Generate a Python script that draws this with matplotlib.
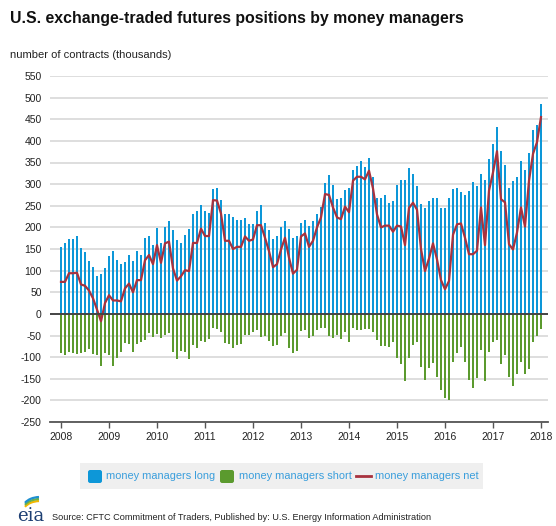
import numpy as np
import matplotlib
matplotlib.use("Agg")
import matplotlib.pyplot as plt
from matplotlib.patches import Rectangle, FancyBboxPatch, Arc

plt.rcParams['font.family'] = ['Liberation Sans', 'DejaVu Sans']
plt.rcParams['axes.unicode_minus'] = False

# monthly values, Jan 2008 .. Jan 2018 (thousand contracts)
long_pos = [155, 164, 174, 174, 181, 152, 144, 123, 109, 87, 92, 106,
            133, 145, 125, 115, 121, 135, 123, 145, 135, 176, 179, 159,
            199, 164, 200, 215, 194, 170, 164, 183, 196, 231, 238, 252,
            238, 233, 289, 292, 263, 231, 231, 223, 218, 218, 221, 208,
            208, 238, 252, 211, 194, 174, 181, 200, 215, 196, 176, 181,
            211, 218, 204, 215, 232, 248, 303, 321, 299, 265, 269, 287,
            292, 333, 341, 353, 339, 360, 316, 267, 267, 275, 257, 262,
            299, 310, 310, 338, 324, 296, 255, 245, 260, 269, 267, 245,
            245, 269, 289, 292, 282, 275, 285, 304, 296, 324, 310, 358,
            392, 433, 376, 345, 292, 307, 317, 353, 333, 372, 425, 437,
            486]
short_pos = [-90, -96, -87, -90, -92, -90, -87, -82, -92, -96, -121, -91,
             -95, -121, -102, -88, -67, -70, -87, -70, -64, -60, -45, -53,
             -46, -55, -48, -45, -87, -104, -86, -87, -104, -72, -80, -63,
             -64, -57, -33, -36, -43, -68, -70, -80, -72, -70, -49, -49,
             -43, -38, -53, -50, -63, -75, -72, -51, -45, -78, -91, -86,
             -40, -37, -55, -50, -37, -33, -33, -50, -55, -49, -57, -43,
             -64, -33, -37, -37, -34, -34, -43, -60, -74, -74, -77, -64,
             -103, -115, -156, -101, -72, -64, -122, -153, -125, -113, -146, -175,
             -194, -200, -111, -91, -76, -111, -153, -171, -149, -84, -155, -88,
             -66, -60, -117, -94, -146, -166, -139, -111, -139, -128, -66, -50,
             -36]
net_pos = [74, 74, 94, 94, 95, 68, 65, 54, 36, 10, -17, 25,
           43, 31, 31, 29, 59, 70, 50, 78, 78, 124, 136, 115,
           159, 118, 163, 167, 105, 77, 87, 101, 99, 164, 164, 197,
           180, 180, 263, 262, 232, 169, 169, 150, 155, 155, 179, 169,
           172, 205, 205, 176, 145, 108, 115, 149, 176, 130, 93, 102,
           179, 186, 155, 169, 200, 223, 277, 275, 246, 223, 219, 248,
           235, 308, 317, 317, 311, 331, 290, 230, 200, 204, 204, 190,
           204, 202, 159, 245, 257, 241, 150, 99, 128, 163, 126, 78,
           57, 76, 183, 207, 209, 176, 138, 138, 146, 246, 159, 285,
           327, 376, 265, 258, 161, 149, 188, 246, 202, 308, 370, 397,
           455]
years = list(range(2008, 2019))
yticks = list(range(-250, 551, 50))

x = 2008 + np.arange(len(long_pos)) / 12.0

W, H = 556, 526
fig = plt.figure(figsize=(W / 100, H / 100), dpi=100)
ax = fig.add_axes([50 / W, 1 - 422 / H, (548 - 50) / W, (422 - 76) / H])

blue = '#0d97d8'
green = '#5b9a2e'
red = '#a8323e'

ax.bar(x, long_pos, width=0.62 / 12, color=blue, linewidth=0, zorder=2)
ax.bar(x, short_pos, width=0.62 / 12, color=green, linewidth=0, zorder=2)
ax.plot(x, net_pos, color=red, linewidth=1.6, zorder=3)

ax.set_xlim(2008 - 11 / 48, 2018 + 7 / 48)
ax.set_ylim(-250, 550)
ax.set_yticks(yticks)
ax.set_xticks(years)
ax.set_xticklabels([str(y) for y in years])
ax.yaxis.grid(True, color='#d4d4d4', linewidth=1.1, zorder=0)
ax.axhline(0, color='#444444', linewidth=1.4, zorder=4)
ax.set_axisbelow(True)
for s in ['top', 'right', 'left']:
    ax.spines[s].set_visible(False)
ax.spines['bottom'].set_color('#555555')
ax.spines['bottom'].set_linewidth(1.3)
ax.tick_params(axis='y', length=0, labelsize=7.5, pad=6, colors='#222222')
ax.tick_params(axis='x', length=4, width=1, color='#555555', labelsize=7.5,
               pad=3, colors='#222222')
for lab in ax.get_xticklabels():
    lab.set_color('#222222')

fig.text(10 / W, 1 - 18 / H, 'U.S. exchange-traded futures positions by money managers',
         fontsize=11.4, fontweight='bold', color='#111111', va='center', ha='left')
fig.text(10 / W, 1 - 55 / H, 'number of contracts (thousands)',
         fontsize=8, color='#222222', va='center', ha='left')

# legend box
fig.patches.append(Rectangle((80 / W, 1 - 489 / H), (483 - 80) / W, 26 / H,
                             transform=fig.transFigure, facecolor='#efefef',
                             edgecolor='none'))
ly = 1 - 476 / H
tcol = '#3a9edc'
fig.patches.append(FancyBboxPatch((88 / W, 1 - 483 / H), 14 / W, 13 / H,
                                  boxstyle='round,pad=0,rounding_size=0.004',
                                  transform=fig.transFigure, facecolor=blue,
                                  edgecolor='none'))
fig.text(106 / W, ly, 'money managers long', fontsize=7.9, color=tcol, va='center')
fig.patches.append(FancyBboxPatch((220 / W, 1 - 483 / H), 14 / W, 13 / H,
                                  boxstyle='round,pad=0,rounding_size=0.004',
                                  transform=fig.transFigure, facecolor=green,
                                  edgecolor='none'))
fig.text(239 / W, ly, 'money managers short', fontsize=7.9, color=tcol, va='center')
fig.lines.append(plt.Line2D([356 / W, 371 / W], [ly, ly], transform=fig.transFigure,
                            color=red, linewidth=2))
fig.text(375 / W, ly, 'money managers net', fontsize=7.9, color=tcol, va='center')

# source line and logo
fig.text(52 / W, 1 - 518 / H,
         'Source: CFTC Commitment of Traders, Published by: U.S. Energy Information Administration',
         fontsize=6.55, color='#222222', va='center')
fig.text(17 / W, 1 - 516 / H, 'eia', fontsize=13, family='DejaVu Serif',
         color='#1d3f73', va='center')
for c, r in [('#f2b800', 0), ('#6ab04c', 2), ('#1e90d0', 4)]:
    fig.patches.append(Arc((40 / W, 1 - (512 - r) / H), 34 / W, 22 / H,
                           theta1=95, theta2=160, transform=fig.transFigure,
                           color=c, linewidth=1.6))

fig.savefig('out.png', dpi=100)
